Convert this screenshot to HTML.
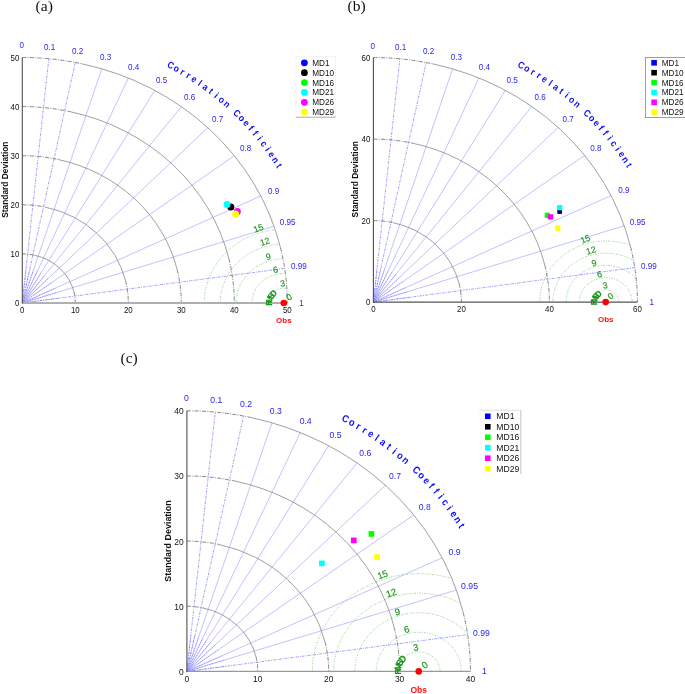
<!DOCTYPE html>
<html><head><meta charset="utf-8"><style>
html,body{margin:0;padding:0;background:#fff;}
body{width:685px;height:694px;overflow:hidden;}
svg{display:block;will-change:transform;font-family:"Liberation Sans",sans-serif;}
</style></head><body>
<svg width="685" height="694" viewBox="0 0 685 694">
<defs><clipPath id="clipa"><path d="M22.3,303 L22.3,57.5 A265 245.5 0 0 1 287.3,303 Z"/></clipPath>
<clipPath id="clipb"><path d="M373.4,302.1 L373.4,57.6 A264 244.5 0 0 1 637.4,302.1 Z"/></clipPath>
<clipPath id="clipc"><path d="M186.9,671.4 L186.9,410.8 A283.6 260.6 0 0 1 470.5,671.4 Z"/></clipPath></defs>
<rect width="685" height="694" fill="#fff"/>
<g clip-path="url(#clipa)" fill="none" stroke="#7cc67c" stroke-width="0.75" stroke-dasharray="1.6,1.4,0.8,1.4">
<ellipse cx="283.8" cy="303" rx="15.9" ry="14.73"/>
<ellipse cx="283.8" cy="303" rx="31.8" ry="29.46"/>
<ellipse cx="283.8" cy="303" rx="47.7" ry="44.19"/>
<ellipse cx="283.8" cy="303" rx="63.6" ry="58.92"/>
<ellipse cx="283.8" cy="303" rx="79.5" ry="73.65"/>
</g>
<line x1="22.3" y1="303" x2="48.8" y2="58.73" stroke="#8585ff" stroke-width="0.8" stroke-dasharray="2.6,1.1,1,1.1"/>
<line x1="22.3" y1="303" x2="26.01" y2="268.8" stroke="#6060ff" stroke-width="0.6" stroke-dasharray="1.4,1.2" stroke-opacity="0.8"/>
<line x1="22.3" y1="303" x2="75.3" y2="62.46" stroke="#8585ff" stroke-width="0.8" stroke-dasharray="2.6,1.1,1,1.1"/>
<line x1="22.3" y1="303" x2="29.72" y2="269.32" stroke="#6060ff" stroke-width="0.6" stroke-dasharray="1.4,1.2" stroke-opacity="0.8"/>
<line x1="22.3" y1="303" x2="101.8" y2="68.81" stroke="#a8a8ff" stroke-width="0.7"/>
<line x1="22.3" y1="303" x2="33.43" y2="270.21" stroke="#6060ff" stroke-width="0.6" stroke-dasharray="1.4,1.2" stroke-opacity="0.8"/>
<line x1="22.3" y1="303" x2="128.3" y2="78" stroke="#a8a8ff" stroke-width="0.7"/>
<line x1="22.3" y1="303" x2="37.14" y2="271.5" stroke="#6060ff" stroke-width="0.6" stroke-dasharray="1.4,1.2" stroke-opacity="0.8"/>
<line x1="22.3" y1="303" x2="154.8" y2="90.39" stroke="#a8a8ff" stroke-width="0.7"/>
<line x1="22.3" y1="303" x2="40.85" y2="273.23" stroke="#6060ff" stroke-width="0.6" stroke-dasharray="1.4,1.2" stroke-opacity="0.8"/>
<line x1="22.3" y1="303" x2="181.3" y2="106.6" stroke="#a8a8ff" stroke-width="0.7"/>
<line x1="22.3" y1="303" x2="44.56" y2="275.5" stroke="#6060ff" stroke-width="0.6" stroke-dasharray="1.4,1.2" stroke-opacity="0.8"/>
<line x1="22.3" y1="303" x2="207.8" y2="127.68" stroke="#a8a8ff" stroke-width="0.7"/>
<line x1="22.3" y1="303" x2="48.27" y2="278.45" stroke="#6060ff" stroke-width="0.6" stroke-dasharray="1.4,1.2" stroke-opacity="0.8"/>
<line x1="22.3" y1="303" x2="234.3" y2="155.7" stroke="#a8a8ff" stroke-width="0.7"/>
<line x1="22.3" y1="303" x2="51.98" y2="282.38" stroke="#6060ff" stroke-width="0.6" stroke-dasharray="1.4,1.2" stroke-opacity="0.8"/>
<line x1="22.3" y1="303" x2="260.8" y2="195.99" stroke="#a8a8ff" stroke-width="0.7"/>
<line x1="22.3" y1="303" x2="55.69" y2="288.02" stroke="#6060ff" stroke-width="0.6" stroke-dasharray="1.4,1.2" stroke-opacity="0.8"/>
<line x1="22.3" y1="303" x2="274.05" y2="226.34" stroke="#a8a8ff" stroke-width="0.7"/>
<line x1="22.3" y1="303" x2="57.55" y2="292.27" stroke="#6060ff" stroke-width="0.6" stroke-dasharray="1.4,1.2" stroke-opacity="0.8"/>
<line x1="22.3" y1="303" x2="284.65" y2="268.37" stroke="#8585ff" stroke-width="0.8" stroke-dasharray="2.6,1.1,1,1.1"/>
<line x1="22.3" y1="303" x2="59.03" y2="298.15" stroke="#6060ff" stroke-width="0.6" stroke-dasharray="1.4,1.2" stroke-opacity="0.8"/>
<path d="M22.3,253.9 A53 49.1 0 0 1 34.22,255.16" fill="none" stroke="#666" stroke-width="0.8" stroke-dasharray="4,1.3,1,1.3"/>
<path d="M34.22,255.16 A53 49.1 0 0 1 73.94,291.95" fill="none" stroke="#808080" stroke-width="0.75"/>
<path d="M73.94,291.95 A53 49.1 0 0 1 75.3,303" fill="none" stroke="#666" stroke-width="0.8" stroke-dasharray="4,1.3,1,1.3"/>
<path d="M22.3,204.8 A106 98.2 0 0 1 46.14,207.32" fill="none" stroke="#666" stroke-width="0.8" stroke-dasharray="4,1.3,1,1.3"/>
<path d="M46.14,207.32 A106 98.2 0 0 1 125.58,280.91" fill="none" stroke="#808080" stroke-width="0.75"/>
<path d="M125.58,280.91 A106 98.2 0 0 1 128.3,303" fill="none" stroke="#666" stroke-width="0.8" stroke-dasharray="4,1.3,1,1.3"/>
<path d="M22.3,155.7 A159 147.3 0 0 1 58.07,159.48" fill="none" stroke="#666" stroke-width="0.8" stroke-dasharray="4,1.3,1,1.3"/>
<path d="M58.07,159.48 A159 147.3 0 0 1 177.22,269.86" fill="none" stroke="#808080" stroke-width="0.75"/>
<path d="M177.22,269.86 A159 147.3 0 0 1 181.3,303" fill="none" stroke="#666" stroke-width="0.8" stroke-dasharray="4,1.3,1,1.3"/>
<path d="M22.3,106.6 A212 196.4 0 0 1 69.99,111.63" fill="none" stroke="#666" stroke-width="0.8" stroke-dasharray="4,1.3,1,1.3"/>
<path d="M69.99,111.63 A212 196.4 0 0 1 228.87,258.82" fill="none" stroke="#808080" stroke-width="0.75"/>
<path d="M228.87,258.82 A212 196.4 0 0 1 234.3,303" fill="none" stroke="#666" stroke-width="0.8" stroke-dasharray="4,1.3,1,1.3"/>
<path d="M22.3,57.5 A265 245.5 0 0 1 81.91,63.79" fill="none" stroke="#666" stroke-width="0.8" stroke-dasharray="4,1.3,1,1.3"/>
<path d="M81.91,63.79 A265 245.5 0 0 1 280.51,247.77" fill="none" stroke="#808080" stroke-width="0.75"/>
<path d="M280.51,247.77 A265 245.5 0 0 1 287.3,303" fill="none" stroke="#666" stroke-width="0.8" stroke-dasharray="4,1.3,1,1.3"/>
<line x1="22.3" y1="303" x2="287.3" y2="303" stroke="#b0b0b0" stroke-width="1.8"/>
<line x1="22.3" y1="303.5" x2="22.3" y2="57.5" stroke="#505050" stroke-width="1.1"/>
<g font-size="7.9" fill="#111" text-anchor="middle">
<text transform="translate(22.3,309.7) rotate(0.02) scale(1,1.12)" y="2.84">0</text>
<text transform="translate(75.3,309.7) rotate(0.02) scale(1,1.12)" y="2.84">10</text>
<text transform="translate(128.3,309.7) rotate(0.02) scale(1,1.12)" y="2.84">20</text>
<text transform="translate(181.3,309.7) rotate(0.02) scale(1,1.12)" y="2.84">30</text>
<text transform="translate(234.3,309.7) rotate(0.02) scale(1,1.12)" y="2.84">40</text>
<text transform="translate(287.3,309.7) rotate(0.02) scale(1,1.12)" y="2.84">50</text>
</g>
<g font-size="7.9" fill="#111" text-anchor="end">
<text transform="translate(19.3,303) rotate(0.02) scale(1,1.12)" y="2.84">0</text>
<text transform="translate(19.3,253.9) rotate(0.02) scale(1,1.12)" y="2.84">10</text>
<text transform="translate(19.3,204.8) rotate(0.02) scale(1,1.12)" y="2.84">20</text>
<text transform="translate(19.3,155.7) rotate(0.02) scale(1,1.12)" y="2.84">30</text>
<text transform="translate(19.3,106.6) rotate(0.02) scale(1,1.12)" y="2.84">40</text>
<text transform="translate(19.3,57.5) rotate(0.02) scale(1,1.12)" y="2.84">50</text>
</g>
<g font-size="8.1" fill="#1f1ff5" text-anchor="middle">
<text transform="translate(21.7,45.12) rotate(0.02) scale(1,1.12)" y="2.92">0</text>
<text transform="translate(49.69,46.41) rotate(0.02) scale(1,1.12)" y="2.92">0.1</text>
<text transform="translate(77.68,50.31) rotate(0.02) scale(1,1.12)" y="2.92">0.2</text>
<text transform="translate(105.68,56.97) rotate(0.02) scale(1,1.12)" y="2.92">0.3</text>
<text transform="translate(133.67,66.6) rotate(0.02) scale(1,1.12)" y="2.92">0.4</text>
<text transform="translate(161.66,79.59) rotate(0.02) scale(1,1.12)" y="2.92">0.5</text>
<text transform="translate(189.65,96.57) rotate(0.02) scale(1,1.12)" y="2.92">0.6</text>
<text transform="translate(217.64,118.66) rotate(0.02) scale(1,1.12)" y="2.92">0.7</text>
<text transform="translate(245.64,148.03) rotate(0.02) scale(1,1.12)" y="2.92">0.8</text>
<text transform="translate(273.63,190.25) rotate(0.02) scale(1,1.12)" y="2.92">0.9</text>
<text transform="translate(287.62,222.06) rotate(0.02) scale(1,1.12)" y="2.92">0.95</text>
<text transform="translate(298.82,266.11) rotate(0.02) scale(1,1.12)" y="2.92">0.99</text>
<text transform="translate(301.62,302.4) rotate(0.02) scale(1,1.12)" y="2.92">1</text>
</g>
<g font-size="8.5" font-weight="bold" fill="#0c0cf2" text-anchor="middle">
<text transform="translate(170.7,64.88) rotate(28.14) scale(1,1.12)" y="3.06">C</text>
<text transform="translate(176.77,68.22) rotate(29.45) scale(1,1.12)" y="3.06">o</text>
<text transform="translate(182.76,71.69) rotate(30.77) scale(1,1.12)" y="3.06">r</text>
<text transform="translate(188.66,75.29) rotate(32.09) scale(1,1.12)" y="3.06">r</text>
<text transform="translate(194.46,79.02) rotate(33.41) scale(1,1.12)" y="3.06">e</text>
<text transform="translate(200.17,82.88) rotate(34.74) scale(1,1.12)" y="3.06">l</text>
<text transform="translate(205.77,86.87) rotate(36.07) scale(1,1.12)" y="3.06">a</text>
<text transform="translate(211.27,90.97) rotate(37.41) scale(1,1.12)" y="3.06">t</text>
<text transform="translate(216.66,95.2) rotate(38.76) scale(1,1.12)" y="3.06">i</text>
<text transform="translate(221.95,99.54) rotate(40.1) scale(1,1.12)" y="3.06">o</text>
<text transform="translate(227.12,104) rotate(41.46) scale(1,1.12)" y="3.06">n</text>
<text transform="translate(237.1,113.26) rotate(44.17) scale(1,1.12)" y="3.06">C</text>
<text transform="translate(241.92,118.05) rotate(45.54) scale(1,1.12)" y="3.06">o</text>
<text transform="translate(246.61,122.94) rotate(46.91) scale(1,1.12)" y="3.06">e</text>
<text transform="translate(251.17,127.94) rotate(48.29) scale(1,1.12)" y="3.06">f</text>
<text transform="translate(255.6,133.03) rotate(49.67) scale(1,1.12)" y="3.06">f</text>
<text transform="translate(259.9,138.22) rotate(51.06) scale(1,1.12)" y="3.06">i</text>
<text transform="translate(264.07,143.51) rotate(52.45) scale(1,1.12)" y="3.06">c</text>
<text transform="translate(268.09,148.88) rotate(53.85) scale(1,1.12)" y="3.06">i</text>
<text transform="translate(271.98,154.35) rotate(55.25) scale(1,1.12)" y="3.06">e</text>
<text transform="translate(275.73,159.89) rotate(56.66) scale(1,1.12)" y="3.06">n</text>
<text transform="translate(279.34,165.52) rotate(58.07) scale(1,1.12)" y="3.06">t</text>
</g>
<text transform="translate(4.5,179.7) rotate(-89.98)" y="3.02" font-size="8.4" font-weight="bold" fill="#111" text-anchor="middle">Standard Deviation</text>
<g font-size="8.8" fill="#189418" stroke="#189418" stroke-width="0.15" text-anchor="middle">
<text transform="translate(289.05,297) rotate(-38)" y="3.17">0</text>
<text transform="translate(282.5,283.2) rotate(-10.01)" y="3.17">3</text>
<text transform="translate(275.4,269.7) rotate(-13)" y="3.17">6</text>
<text transform="translate(268.4,256.6) rotate(-15)" y="3.17">9</text>
<text transform="translate(264.8,241.5) rotate(-18)" y="3.17">12</text>
<text transform="translate(258.3,228) rotate(-20)" y="3.17">15</text>
<text transform="translate(268.96,303) rotate(-90) scale(1,1.12)" y="2.81" font-size="7.8" font-weight="bold">R</text>
<text transform="translate(269.47,299.44) rotate(-73.87) scale(1,1.12)" y="2.81" font-size="7.8" font-weight="bold">M</text>
<text transform="translate(270.95,296.13) rotate(-58.07) scale(1,1.12)" y="2.81" font-size="7.8" font-weight="bold">S</text>
<text transform="translate(273.31,293.28) rotate(-42.81) scale(1,1.12)" y="2.81" font-size="7.8" font-weight="bold">D</text>
</g>
<circle cx="230.8" cy="206.9" r="3.5" fill="#000000"/>
<circle cx="227" cy="204.6" r="3.5" fill="#00ffff"/>
<circle cx="237.3" cy="211.6" r="3.5" fill="#ff00ff"/>
<circle cx="235.6" cy="213.9" r="3.5" fill="#ffff00"/>
<circle cx="283.8" cy="303" r="3.3" fill="#ff0000"/>
<text transform="translate(283.8,320.6) rotate(0.02)" y="2.88" font-size="8" font-weight="bold" fill="#ff1010" text-anchor="middle">Obs</text>
<rect x="296" y="56.7" width="39.7" height="60.5" fill="#fff" stroke="#efefef" stroke-width="0.8"/><line x1="296" y1="117.2" x2="335.7" y2="117.2" stroke="#aaa" stroke-width="0.9"/>
<circle cx="304.4" cy="62.8" r="3.4" fill="#0000ff"/>
<text transform="translate(312.2,62.8) rotate(0.02)" y="2.95" font-size="8.2" fill="#111">MD1</text>
<circle cx="304.4" cy="72.68" r="3.4" fill="#000000"/>
<text transform="translate(312.2,72.68) rotate(0.02)" y="2.95" font-size="8.2" fill="#111">MD10</text>
<circle cx="304.4" cy="82.56" r="3.4" fill="#00ff00"/>
<text transform="translate(312.2,82.56) rotate(0.02)" y="2.95" font-size="8.2" fill="#111">MD16</text>
<circle cx="304.4" cy="92.44" r="3.4" fill="#00ffff"/>
<text transform="translate(312.2,92.44) rotate(0.02)" y="2.95" font-size="8.2" fill="#111">MD21</text>
<circle cx="304.4" cy="102.32" r="3.4" fill="#ff00ff"/>
<text transform="translate(312.2,102.32) rotate(0.02)" y="2.95" font-size="8.2" fill="#111">MD26</text>
<circle cx="304.4" cy="112.2" r="3.4" fill="#ffff00"/>
<text transform="translate(312.2,112.2) rotate(0.02)" y="2.95" font-size="8.2" fill="#111">MD29</text>
<text x="35.6" y="10.6" font-family="Liberation Serif, serif" font-size="15.6" fill="#111">(a)</text>
<g clip-path="url(#clipb)" fill="none" stroke="#7cc67c" stroke-width="0.75" stroke-dasharray="1.6,1.4,0.8,1.4">
<ellipse cx="605.72" cy="302.1" rx="13.2" ry="12.23"/>
<ellipse cx="605.72" cy="302.1" rx="26.4" ry="24.45"/>
<ellipse cx="605.72" cy="302.1" rx="39.6" ry="36.68"/>
<ellipse cx="605.72" cy="302.1" rx="52.8" ry="48.9"/>
<ellipse cx="605.72" cy="302.1" rx="66" ry="61.12"/>
</g>
<line x1="373.4" y1="302.1" x2="399.8" y2="58.83" stroke="#8585ff" stroke-width="0.8" stroke-dasharray="2.6,1.1,1,1.1"/>
<line x1="373.4" y1="302.1" x2="377.1" y2="268.04" stroke="#6060ff" stroke-width="0.6" stroke-dasharray="1.4,1.2" stroke-opacity="0.8"/>
<line x1="373.4" y1="302.1" x2="426.2" y2="62.54" stroke="#8585ff" stroke-width="0.8" stroke-dasharray="2.6,1.1,1,1.1"/>
<line x1="373.4" y1="302.1" x2="380.79" y2="268.56" stroke="#6060ff" stroke-width="0.6" stroke-dasharray="1.4,1.2" stroke-opacity="0.8"/>
<line x1="373.4" y1="302.1" x2="452.6" y2="68.86" stroke="#a8a8ff" stroke-width="0.7"/>
<line x1="373.4" y1="302.1" x2="384.49" y2="269.45" stroke="#6060ff" stroke-width="0.6" stroke-dasharray="1.4,1.2" stroke-opacity="0.8"/>
<line x1="373.4" y1="302.1" x2="479" y2="78.01" stroke="#a8a8ff" stroke-width="0.7"/>
<line x1="373.4" y1="302.1" x2="388.18" y2="270.73" stroke="#6060ff" stroke-width="0.6" stroke-dasharray="1.4,1.2" stroke-opacity="0.8"/>
<line x1="373.4" y1="302.1" x2="505.4" y2="90.36" stroke="#a8a8ff" stroke-width="0.7"/>
<line x1="373.4" y1="302.1" x2="391.88" y2="272.46" stroke="#6060ff" stroke-width="0.6" stroke-dasharray="1.4,1.2" stroke-opacity="0.8"/>
<line x1="373.4" y1="302.1" x2="531.8" y2="106.5" stroke="#a8a8ff" stroke-width="0.7"/>
<line x1="373.4" y1="302.1" x2="395.58" y2="274.72" stroke="#6060ff" stroke-width="0.6" stroke-dasharray="1.4,1.2" stroke-opacity="0.8"/>
<line x1="373.4" y1="302.1" x2="558.2" y2="127.49" stroke="#a8a8ff" stroke-width="0.7"/>
<line x1="373.4" y1="302.1" x2="399.27" y2="277.65" stroke="#6060ff" stroke-width="0.6" stroke-dasharray="1.4,1.2" stroke-opacity="0.8"/>
<line x1="373.4" y1="302.1" x2="584.6" y2="155.4" stroke="#a8a8ff" stroke-width="0.7"/>
<line x1="373.4" y1="302.1" x2="402.97" y2="281.56" stroke="#6060ff" stroke-width="0.6" stroke-dasharray="1.4,1.2" stroke-opacity="0.8"/>
<line x1="373.4" y1="302.1" x2="611" y2="195.52" stroke="#a8a8ff" stroke-width="0.7"/>
<line x1="373.4" y1="302.1" x2="406.66" y2="287.18" stroke="#6060ff" stroke-width="0.6" stroke-dasharray="1.4,1.2" stroke-opacity="0.8"/>
<line x1="373.4" y1="302.1" x2="624.2" y2="225.75" stroke="#a8a8ff" stroke-width="0.7"/>
<line x1="373.4" y1="302.1" x2="408.51" y2="291.41" stroke="#6060ff" stroke-width="0.6" stroke-dasharray="1.4,1.2" stroke-opacity="0.8"/>
<line x1="373.4" y1="302.1" x2="634.76" y2="267.61" stroke="#8585ff" stroke-width="0.8" stroke-dasharray="2.6,1.1,1,1.1"/>
<line x1="373.4" y1="302.1" x2="409.99" y2="297.27" stroke="#6060ff" stroke-width="0.6" stroke-dasharray="1.4,1.2" stroke-opacity="0.8"/>
<path d="M373.4,220.6 A88 81.5 0 0 1 393.2,222.69" fill="none" stroke="#666" stroke-width="0.8" stroke-dasharray="4,1.3,1,1.3"/>
<path d="M393.2,222.69 A88 81.5 0 0 1 459.14,283.77" fill="none" stroke="#808080" stroke-width="0.75"/>
<path d="M459.14,283.77 A88 81.5 0 0 1 461.4,302.1" fill="none" stroke="#666" stroke-width="0.8" stroke-dasharray="4,1.3,1,1.3"/>
<path d="M373.4,139.1 A176 163 0 0 1 412.99,143.28" fill="none" stroke="#666" stroke-width="0.8" stroke-dasharray="4,1.3,1,1.3"/>
<path d="M412.99,143.28 A176 163 0 0 1 544.89,265.43" fill="none" stroke="#808080" stroke-width="0.75"/>
<path d="M544.89,265.43 A176 163 0 0 1 549.4,302.1" fill="none" stroke="#666" stroke-width="0.8" stroke-dasharray="4,1.3,1,1.3"/>
<path d="M373.4,57.6 A264 244.5 0 0 1 432.79,63.87" fill="none" stroke="#666" stroke-width="0.8" stroke-dasharray="4,1.3,1,1.3"/>
<path d="M432.79,63.87 A264 244.5 0 0 1 630.63,247.1" fill="none" stroke="#808080" stroke-width="0.75"/>
<path d="M630.63,247.1 A264 244.5 0 0 1 637.4,302.1" fill="none" stroke="#666" stroke-width="0.8" stroke-dasharray="4,1.3,1,1.3"/>
<line x1="373.4" y1="302.1" x2="637.4" y2="302.1" stroke="#555" stroke-width="1.1"/>
<line x1="373.4" y1="302.6" x2="373.4" y2="57.6" stroke="#505050" stroke-width="1.1"/>
<g font-size="7.9" fill="#111" text-anchor="middle">
<text transform="translate(373.4,308.8) rotate(0.02) scale(1,1.12)" y="2.84">0</text>
<text transform="translate(461.4,308.8) rotate(0.02) scale(1,1.12)" y="2.84">20</text>
<text transform="translate(549.4,308.8) rotate(0.02) scale(1,1.12)" y="2.84">40</text>
<text transform="translate(637.4,308.8) rotate(0.02) scale(1,1.12)" y="2.84">60</text>
</g>
<g font-size="7.9" fill="#111" text-anchor="end">
<text transform="translate(370.4,302.1) rotate(0.02) scale(1,1.12)" y="2.84">0</text>
<text transform="translate(370.4,220.6) rotate(0.02) scale(1,1.12)" y="2.84">20</text>
<text transform="translate(370.4,139.1) rotate(0.02) scale(1,1.12)" y="2.84">40</text>
<text transform="translate(370.4,57.6) rotate(0.02) scale(1,1.12)" y="2.84">60</text>
</g>
<g font-size="8.1" fill="#1f1ff5" text-anchor="middle">
<text transform="translate(372.8,45.26) rotate(0.02) scale(1,1.12)" y="2.92">0</text>
<text transform="translate(400.69,46.55) rotate(0.02) scale(1,1.12)" y="2.92">0.1</text>
<text transform="translate(428.57,50.44) rotate(0.02) scale(1,1.12)" y="2.92">0.2</text>
<text transform="translate(456.46,57.07) rotate(0.02) scale(1,1.12)" y="2.92">0.3</text>
<text transform="translate(484.35,66.66) rotate(0.02) scale(1,1.12)" y="2.92">0.4</text>
<text transform="translate(512.24,79.59) rotate(0.02) scale(1,1.12)" y="2.92">0.5</text>
<text transform="translate(540.12,96.51) rotate(0.02) scale(1,1.12)" y="2.92">0.6</text>
<text transform="translate(568.01,118.51) rotate(0.02) scale(1,1.12)" y="2.92">0.7</text>
<text transform="translate(595.9,147.76) rotate(0.02) scale(1,1.12)" y="2.92">0.8</text>
<text transform="translate(623.78,189.81) rotate(0.02) scale(1,1.12)" y="2.92">0.9</text>
<text transform="translate(637.73,221.49) rotate(0.02) scale(1,1.12)" y="2.92">0.95</text>
<text transform="translate(648.88,265.35) rotate(0.02) scale(1,1.12)" y="2.92">0.99</text>
<text transform="translate(651.67,301.5) rotate(0.02) scale(1,1.12)" y="2.92">1</text>
</g>
<g font-size="8.5" font-weight="bold" fill="#0c0cf2" text-anchor="middle">
<text transform="translate(521.24,64.95) rotate(28.13) scale(1,1.12)" y="3.06">C</text>
<text transform="translate(527.29,68.27) rotate(29.45) scale(1,1.12)" y="3.06">o</text>
<text transform="translate(533.26,71.73) rotate(30.76) scale(1,1.12)" y="3.06">r</text>
<text transform="translate(539.13,75.32) rotate(32.08) scale(1,1.12)" y="3.06">r</text>
<text transform="translate(544.91,79.04) rotate(33.4) scale(1,1.12)" y="3.06">e</text>
<text transform="translate(550.59,82.88) rotate(34.73) scale(1,1.12)" y="3.06">l</text>
<text transform="translate(556.18,86.85) rotate(36.07) scale(1,1.12)" y="3.06">a</text>
<text transform="translate(561.66,90.94) rotate(37.4) scale(1,1.12)" y="3.06">t</text>
<text transform="translate(567.03,95.15) rotate(38.75) scale(1,1.12)" y="3.06">i</text>
<text transform="translate(572.29,99.47) rotate(40.09) scale(1,1.12)" y="3.06">o</text>
<text transform="translate(577.44,103.91) rotate(41.45) scale(1,1.12)" y="3.06">n</text>
<text transform="translate(587.39,113.13) rotate(44.17) scale(1,1.12)" y="3.06">C</text>
<text transform="translate(592.19,117.9) rotate(45.53) scale(1,1.12)" y="3.06">o</text>
<text transform="translate(596.86,122.77) rotate(46.91) scale(1,1.12)" y="3.06">e</text>
<text transform="translate(601.4,127.75) rotate(48.28) scale(1,1.12)" y="3.06">f</text>
<text transform="translate(605.82,132.82) rotate(49.66) scale(1,1.12)" y="3.06">f</text>
<text transform="translate(610.1,137.99) rotate(51.05) scale(1,1.12)" y="3.06">i</text>
<text transform="translate(614.25,143.26) rotate(52.44) scale(1,1.12)" y="3.06">c</text>
<text transform="translate(618.27,148.61) rotate(53.84) scale(1,1.12)" y="3.06">i</text>
<text transform="translate(622.14,154.05) rotate(55.24) scale(1,1.12)" y="3.06">e</text>
<text transform="translate(625.88,159.58) rotate(56.65) scale(1,1.12)" y="3.06">n</text>
<text transform="translate(629.47,165.18) rotate(58.06) scale(1,1.12)" y="3.06">t</text>
</g>
<text transform="translate(355,179.3) rotate(-89.98)" y="3.02" font-size="8.4" font-weight="bold" fill="#111" text-anchor="middle">Standard Deviation</text>
<g font-size="8.8" fill="#189418" stroke="#189418" stroke-width="0.15" text-anchor="middle">
<text transform="translate(610.5,296) rotate(-35)" y="3.17">0</text>
<text transform="translate(605.2,285.2) rotate(-10)" y="3.17">3</text>
<text transform="translate(599.4,274) rotate(-13)" y="3.17">6</text>
<text transform="translate(594,263.1) rotate(-15)" y="3.17">9</text>
<text transform="translate(591,250.2) rotate(-18)" y="3.17">12</text>
<text transform="translate(585.4,239) rotate(-22)" y="3.17">15</text>
<text transform="translate(593.84,302.4) rotate(-90) scale(1,1.12)" y="2.81" font-size="7.8" font-weight="bold">R</text>
<text transform="translate(594.36,299.18) rotate(-71.73) scale(1,1.12)" y="2.81" font-size="7.8" font-weight="bold">M</text>
<text transform="translate(595.87,296.25) rotate(-53.93) scale(1,1.12)" y="2.81" font-size="7.8" font-weight="bold">S</text>
<text transform="translate(598.24,293.85) rotate(-36.87) scale(1,1.12)" y="2.81" font-size="7.8" font-weight="bold">D</text>
</g>
<rect x="557.45" y="208.75" width="4.5" height="5.3" fill="#0000ff"/>
<rect x="557.45" y="207.25" width="4.5" height="5.3" fill="#000000"/>
<rect x="544.65" y="212.65" width="5.3" height="5.3" fill="#00ff00"/>
<rect x="557.05" y="205.05" width="5.3" height="5.3" fill="#00ffff"/>
<rect x="547.85" y="214.25" width="5.3" height="5.3" fill="#ff00ff"/>
<rect x="555.05" y="225.65" width="5.3" height="5.3" fill="#ffff00"/>
<circle cx="605.72" cy="302.1" r="3.3" fill="#ff0000"/>
<text transform="translate(605.72,319.5) rotate(0.02)" y="2.88" font-size="8" font-weight="bold" fill="#ff1010" text-anchor="middle">Obs</text>
<rect x="645.4" y="57.4" width="50" height="60.2" fill="#fff" stroke="#888" stroke-width="0.8"/>
<rect x="651.3" y="60" width="5.6" height="5.6" fill="#0000ff"/>
<text transform="translate(661.8,62.8) rotate(0.02)" y="2.95" font-size="8.2" fill="#111">MD1</text>
<rect x="651.3" y="69.88" width="5.6" height="5.6" fill="#000000"/>
<text transform="translate(661.8,72.68) rotate(0.02)" y="2.95" font-size="8.2" fill="#111">MD10</text>
<rect x="651.3" y="79.76" width="5.6" height="5.6" fill="#00ff00"/>
<text transform="translate(661.8,82.56) rotate(0.02)" y="2.95" font-size="8.2" fill="#111">MD16</text>
<rect x="651.3" y="89.64" width="5.6" height="5.6" fill="#00ffff"/>
<text transform="translate(661.8,92.44) rotate(0.02)" y="2.95" font-size="8.2" fill="#111">MD21</text>
<rect x="651.3" y="99.52" width="5.6" height="5.6" fill="#ff00ff"/>
<text transform="translate(661.8,102.32) rotate(0.02)" y="2.95" font-size="8.2" fill="#111">MD26</text>
<rect x="651.3" y="109.4" width="5.6" height="5.6" fill="#ffff00"/>
<text transform="translate(661.8,112.2) rotate(0.02)" y="2.95" font-size="8.2" fill="#111">MD29</text>
<text x="347.5" y="10.6" font-family="Liberation Serif, serif" font-size="15.6" fill="#111">(b)</text>
<g clip-path="url(#clipc)" fill="none" stroke="#7cc67c" stroke-width="0.75" stroke-dasharray="1.6,1.4,0.8,1.4">
<ellipse cx="418.74" cy="671.4" rx="21.27" ry="19.54"/>
<ellipse cx="418.74" cy="671.4" rx="42.54" ry="39.09"/>
<ellipse cx="418.74" cy="671.4" rx="63.81" ry="58.63"/>
<ellipse cx="418.74" cy="671.4" rx="85.08" ry="78.18"/>
<ellipse cx="418.74" cy="671.4" rx="106.35" ry="97.72"/>
</g>
<line x1="186.9" y1="671.4" x2="215.26" y2="412.11" stroke="#8585ff" stroke-width="0.8" stroke-dasharray="2.6,1.1,1,1.1"/>
<line x1="186.9" y1="671.4" x2="190.87" y2="635.1" stroke="#6060ff" stroke-width="0.6" stroke-dasharray="1.4,1.2" stroke-opacity="0.8"/>
<line x1="186.9" y1="671.4" x2="243.62" y2="416.07" stroke="#8585ff" stroke-width="0.8" stroke-dasharray="2.6,1.1,1,1.1"/>
<line x1="186.9" y1="671.4" x2="194.84" y2="635.65" stroke="#6060ff" stroke-width="0.6" stroke-dasharray="1.4,1.2" stroke-opacity="0.8"/>
<line x1="186.9" y1="671.4" x2="271.98" y2="422.8" stroke="#a8a8ff" stroke-width="0.7"/>
<line x1="186.9" y1="671.4" x2="198.81" y2="636.6" stroke="#6060ff" stroke-width="0.6" stroke-dasharray="1.4,1.2" stroke-opacity="0.8"/>
<line x1="186.9" y1="671.4" x2="300.34" y2="432.56" stroke="#a8a8ff" stroke-width="0.7"/>
<line x1="186.9" y1="671.4" x2="202.78" y2="637.96" stroke="#6060ff" stroke-width="0.6" stroke-dasharray="1.4,1.2" stroke-opacity="0.8"/>
<line x1="186.9" y1="671.4" x2="328.7" y2="445.71" stroke="#a8a8ff" stroke-width="0.7"/>
<line x1="186.9" y1="671.4" x2="206.75" y2="639.8" stroke="#6060ff" stroke-width="0.6" stroke-dasharray="1.4,1.2" stroke-opacity="0.8"/>
<line x1="186.9" y1="671.4" x2="357.06" y2="462.92" stroke="#a8a8ff" stroke-width="0.7"/>
<line x1="186.9" y1="671.4" x2="210.72" y2="642.21" stroke="#6060ff" stroke-width="0.6" stroke-dasharray="1.4,1.2" stroke-opacity="0.8"/>
<line x1="186.9" y1="671.4" x2="385.42" y2="485.29" stroke="#a8a8ff" stroke-width="0.7"/>
<line x1="186.9" y1="671.4" x2="214.69" y2="645.35" stroke="#6060ff" stroke-width="0.6" stroke-dasharray="1.4,1.2" stroke-opacity="0.8"/>
<line x1="186.9" y1="671.4" x2="413.78" y2="515.04" stroke="#a8a8ff" stroke-width="0.7"/>
<line x1="186.9" y1="671.4" x2="218.66" y2="649.51" stroke="#6060ff" stroke-width="0.6" stroke-dasharray="1.4,1.2" stroke-opacity="0.8"/>
<line x1="186.9" y1="671.4" x2="442.14" y2="557.81" stroke="#a8a8ff" stroke-width="0.7"/>
<line x1="186.9" y1="671.4" x2="222.63" y2="655.5" stroke="#6060ff" stroke-width="0.6" stroke-dasharray="1.4,1.2" stroke-opacity="0.8"/>
<line x1="186.9" y1="671.4" x2="456.32" y2="590.03" stroke="#a8a8ff" stroke-width="0.7"/>
<line x1="186.9" y1="671.4" x2="224.62" y2="660.01" stroke="#6060ff" stroke-width="0.6" stroke-dasharray="1.4,1.2" stroke-opacity="0.8"/>
<line x1="186.9" y1="671.4" x2="467.66" y2="634.64" stroke="#8585ff" stroke-width="0.8" stroke-dasharray="2.6,1.1,1,1.1"/>
<line x1="186.9" y1="671.4" x2="226.21" y2="666.25" stroke="#6060ff" stroke-width="0.6" stroke-dasharray="1.4,1.2" stroke-opacity="0.8"/>
<path d="M186.9,606.25 A70.9 65.15 0 0 1 202.85,607.92" fill="none" stroke="#666" stroke-width="0.8" stroke-dasharray="4,1.3,1,1.3"/>
<path d="M202.85,607.92 A70.9 65.15 0 0 1 255.98,656.74" fill="none" stroke="#808080" stroke-width="0.75"/>
<path d="M255.98,656.74 A70.9 65.15 0 0 1 257.8,671.4" fill="none" stroke="#666" stroke-width="0.8" stroke-dasharray="4,1.3,1,1.3"/>
<path d="M186.9,541.1 A141.8 130.3 0 0 1 218.8,544.44" fill="none" stroke="#666" stroke-width="0.8" stroke-dasharray="4,1.3,1,1.3"/>
<path d="M218.8,544.44 A141.8 130.3 0 0 1 325.07,642.09" fill="none" stroke="#808080" stroke-width="0.75"/>
<path d="M325.07,642.09 A141.8 130.3 0 0 1 328.7,671.4" fill="none" stroke="#666" stroke-width="0.8" stroke-dasharray="4,1.3,1,1.3"/>
<path d="M186.9,475.95 A212.7 195.45 0 0 1 234.75,480.96" fill="none" stroke="#666" stroke-width="0.8" stroke-dasharray="4,1.3,1,1.3"/>
<path d="M234.75,480.96 A212.7 195.45 0 0 1 394.15,627.43" fill="none" stroke="#808080" stroke-width="0.75"/>
<path d="M394.15,627.43 A212.7 195.45 0 0 1 399.6,671.4" fill="none" stroke="#666" stroke-width="0.8" stroke-dasharray="4,1.3,1,1.3"/>
<path d="M186.9,410.8 A283.6 260.6 0 0 1 250.7,417.48" fill="none" stroke="#666" stroke-width="0.8" stroke-dasharray="4,1.3,1,1.3"/>
<path d="M250.7,417.48 A283.6 260.6 0 0 1 463.23,612.78" fill="none" stroke="#808080" stroke-width="0.75"/>
<path d="M463.23,612.78 A283.6 260.6 0 0 1 470.5,671.4" fill="none" stroke="#666" stroke-width="0.8" stroke-dasharray="4,1.3,1,1.3"/>
<line x1="186.9" y1="671.4" x2="470.5" y2="671.4" stroke="#999" stroke-width="1.4"/>
<line x1="186.9" y1="671.9" x2="186.9" y2="410.8" stroke="#505050" stroke-width="1.1"/>
<g font-size="8.45" fill="#111" text-anchor="middle">
<text transform="translate(186.9,678.8) rotate(0.02) scale(1,1.12)" y="3.04">0</text>
<text transform="translate(257.8,678.8) rotate(0.02) scale(1,1.12)" y="3.04">10</text>
<text transform="translate(328.7,678.8) rotate(0.02) scale(1,1.12)" y="3.04">20</text>
<text transform="translate(399.6,678.8) rotate(0.02) scale(1,1.12)" y="3.04">30</text>
<text transform="translate(470.5,678.8) rotate(0.02) scale(1,1.12)" y="3.04">40</text>
</g>
<g font-size="8.45" fill="#111" text-anchor="end">
<text transform="translate(183.7,671.4) rotate(0.02) scale(1,1.12)" y="3.04">0</text>
<text transform="translate(183.7,606.25) rotate(0.02) scale(1,1.12)" y="3.04">10</text>
<text transform="translate(183.7,541.1) rotate(0.02) scale(1,1.12)" y="3.04">20</text>
<text transform="translate(183.7,475.95) rotate(0.02) scale(1,1.12)" y="3.04">30</text>
<text transform="translate(183.7,410.8) rotate(0.02) scale(1,1.12)" y="3.04">40</text>
</g>
<g font-size="8.67" fill="#1f1ff5" text-anchor="middle">
<text transform="translate(186.5,397.69) rotate(0.02) scale(1,1.12)" y="3.12">0</text>
<text transform="translate(216.29,399.06) rotate(0.02) scale(1,1.12)" y="3.12">0.1</text>
<text transform="translate(246.08,403.21) rotate(0.02) scale(1,1.12)" y="3.12">0.2</text>
<text transform="translate(275.87,410.27) rotate(0.02) scale(1,1.12)" y="3.12">0.3</text>
<text transform="translate(305.67,420.49) rotate(0.02) scale(1,1.12)" y="3.12">0.4</text>
<text transform="translate(335.46,434.28) rotate(0.02) scale(1,1.12)" y="3.12">0.5</text>
<text transform="translate(365.25,452.31) rotate(0.02) scale(1,1.12)" y="3.12">0.6</text>
<text transform="translate(395.04,475.76) rotate(0.02) scale(1,1.12)" y="3.12">0.7</text>
<text transform="translate(424.83,506.93) rotate(0.02) scale(1,1.12)" y="3.12">0.8</text>
<text transform="translate(454.62,551.75) rotate(0.02) scale(1,1.12)" y="3.12">0.9</text>
<text transform="translate(469.52,585.52) rotate(0.02) scale(1,1.12)" y="3.12">0.95</text>
<text transform="translate(481.43,632.27) rotate(0.02) scale(1,1.12)" y="3.12">0.99</text>
<text transform="translate(484.41,670.8) rotate(0.02) scale(1,1.12)" y="3.12">1</text>
</g>
<g font-size="9.1" font-weight="bold" fill="#0c0cf2" text-anchor="middle">
<text transform="translate(345.72,418.63) rotate(27.95) scale(1,1.12)" y="3.27">C</text>
<text transform="translate(352.22,422.18) rotate(29.25) scale(1,1.12)" y="3.27">o</text>
<text transform="translate(358.62,425.86) rotate(30.56) scale(1,1.12)" y="3.27">r</text>
<text transform="translate(364.94,429.69) rotate(31.88) scale(1,1.12)" y="3.27">r</text>
<text transform="translate(371.14,433.65) rotate(33.2) scale(1,1.12)" y="3.27">e</text>
<text transform="translate(377.25,437.74) rotate(34.52) scale(1,1.12)" y="3.27">l</text>
<text transform="translate(383.25,441.97) rotate(35.85) scale(1,1.12)" y="3.27">a</text>
<text transform="translate(389.13,446.33) rotate(37.19) scale(1,1.12)" y="3.27">t</text>
<text transform="translate(394.9,450.82) rotate(38.53) scale(1,1.12)" y="3.27">i</text>
<text transform="translate(400.56,455.43) rotate(39.87) scale(1,1.12)" y="3.27">o</text>
<text transform="translate(406.09,460.16) rotate(41.22) scale(1,1.12)" y="3.27">n</text>
<text transform="translate(416.78,469.99) rotate(43.94) scale(1,1.12)" y="3.27">C</text>
<text transform="translate(421.93,475.07) rotate(45.31) scale(1,1.12)" y="3.27">o</text>
<text transform="translate(426.95,480.26) rotate(46.68) scale(1,1.12)" y="3.27">e</text>
<text transform="translate(431.83,485.57) rotate(48.06) scale(1,1.12)" y="3.27">f</text>
<text transform="translate(436.58,490.98) rotate(49.44) scale(1,1.12)" y="3.27">f</text>
<text transform="translate(441.18,496.49) rotate(50.83) scale(1,1.12)" y="3.27">i</text>
<text transform="translate(445.64,502.1) rotate(52.23) scale(1,1.12)" y="3.27">c</text>
<text transform="translate(449.95,507.8) rotate(53.63) scale(1,1.12)" y="3.27">i</text>
<text transform="translate(454.11,513.6) rotate(55.03) scale(1,1.12)" y="3.27">e</text>
<text transform="translate(458.12,519.49) rotate(56.44) scale(1,1.12)" y="3.27">n</text>
<text transform="translate(461.98,525.46) rotate(57.86) scale(1,1.12)" y="3.27">t</text>
</g>
<text transform="translate(168.1,541) rotate(-89.98)" y="3.22" font-size="8.95" font-weight="bold" fill="#111" text-anchor="middle">Standard Deviation</text>
<g font-size="9.42" fill="#189418" stroke="#189418" stroke-width="0.15" text-anchor="middle">
<text transform="translate(424.7,664.9) rotate(-35)" y="3.39">0</text>
<text transform="translate(415.8,647.3) rotate(-10)" y="3.39">3</text>
<text transform="translate(406.7,629.2) rotate(-15)" y="3.39">6</text>
<text transform="translate(397.4,611.8) rotate(-15)" y="3.39">9</text>
<text transform="translate(391.2,592.8) rotate(-18)" y="3.39">12</text>
<text transform="translate(382.6,574.5) rotate(-22)" y="3.39">15</text>
<text transform="translate(397.47,671.4) rotate(-90) scale(1,1.12)" y="3" font-size="8.35" font-weight="bold">R</text>
<text transform="translate(398.04,666.9) rotate(-75.57) scale(1,1.12)" y="3" font-size="8.35" font-weight="bold">M</text>
<text transform="translate(399.72,662.65) rotate(-61.41) scale(1,1.12)" y="3" font-size="8.35" font-weight="bold">S</text>
<text transform="translate(402.43,658.86) rotate(-47.7) scale(1,1.12)" y="3" font-size="8.35" font-weight="bold">D</text>
</g>
<rect x="368.55" y="531.05" width="5.7" height="5.7" fill="#00ff00"/>
<rect x="319.05" y="560.55" width="5.7" height="5.7" fill="#00ffff"/>
<rect x="350.95" y="537.55" width="5.7" height="5.7" fill="#ff00ff"/>
<rect x="374.25" y="554.25" width="5.7" height="5.7" fill="#ffff00"/>
<circle cx="418.74" cy="671.4" r="3.3" fill="#ff0000"/>
<text transform="translate(418.74,690.4) rotate(0.02)" y="3.08" font-size="8.56" font-weight="bold" fill="#ff1010" text-anchor="middle">Obs</text>
<line x1="479.2" y1="410.2" x2="520.8" y2="410.2" stroke="#ddd" stroke-width="0.9"/><line x1="520.8" y1="410.2" x2="520.8" y2="474.1" stroke="#bbb" stroke-width="0.9"/>
<rect x="485" y="413.5" width="5.6" height="5.6" fill="#0000ff"/>
<text transform="translate(496.3,416.3) rotate(0.02)" y="3.1" font-size="8.6" fill="#111">MD1</text>
<rect x="485" y="423.98" width="5.6" height="5.6" fill="#000000"/>
<text transform="translate(496.3,426.78) rotate(0.02)" y="3.1" font-size="8.6" fill="#111">MD10</text>
<rect x="485" y="434.46" width="5.6" height="5.6" fill="#00ff00"/>
<text transform="translate(496.3,437.26) rotate(0.02)" y="3.1" font-size="8.6" fill="#111">MD16</text>
<rect x="485" y="444.94" width="5.6" height="5.6" fill="#00ffff"/>
<text transform="translate(496.3,447.74) rotate(0.02)" y="3.1" font-size="8.6" fill="#111">MD21</text>
<rect x="485" y="455.42" width="5.6" height="5.6" fill="#ff00ff"/>
<text transform="translate(496.3,458.22) rotate(0.02)" y="3.1" font-size="8.6" fill="#111">MD26</text>
<rect x="485" y="465.9" width="5.6" height="5.6" fill="#ffff00"/>
<text transform="translate(496.3,468.7) rotate(0.02)" y="3.1" font-size="8.6" fill="#111">MD29</text>
<text x="120.5" y="362.9" font-family="Liberation Serif, serif" font-size="15.6" fill="#111">(c)</text>
</svg>
</body></html>
